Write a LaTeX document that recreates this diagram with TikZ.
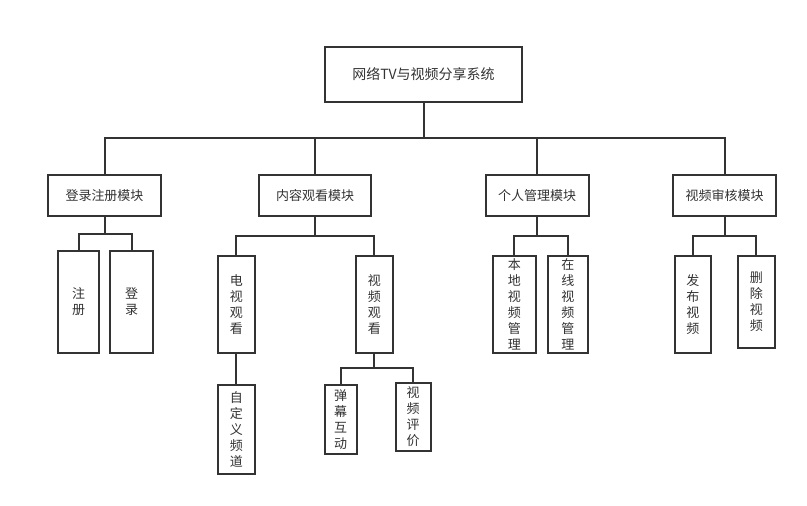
\documentclass[tikz,border=0pt]{standalone}
\usepackage{fontspec}
\setmainfont{Noto Sans CJK SC}
\definecolor{ink}{HTML}{333333}
\definecolor{txt}{HTML}{333333}
\begin{document}
\begin{tikzpicture}[x=1pt,y=-1pt,
  box/.style={draw=ink, line width=2pt, fill=white, inner sep=0pt, text=txt, align=center,
    font=\fontsize{13}{16}\selectfont},
  conn/.style={draw=ink, line width=2pt}]
\useasboundingbox (0,0) rectangle (807,506);
% root and modules
\node[box, minimum width=197pt, minimum height=55pt, font=\fontsize{14}{16}\selectfont] (root) at (423.5,74.5) {网络TV与视频分享系统};
\node[box, minimum width=113pt, minimum height=41pt] (m1) at (104.5,195.5) {登录注册模块};
\node[box, minimum width=112pt, minimum height=41pt] (m2) at (315,195.5) {内容观看模块};
\node[box, minimum width=103pt, minimum height=41pt] (m3) at (537,195.5) {个人管理模块};
\node[box, minimum width=103pt, minimum height=41pt] (m4) at (724.5,195.5) {视频审核模块};
% leaves
\node[box, minimum width=40.7pt, minimum height=102.3pt] (a1) at (78.7,301.8) {注\\册};
\node[box, minimum width=42.4pt, minimum height=102.3pt] (a2) at (131.5,301.8) {登\\录};
\node[box, minimum width=37.3pt, minimum height=97.3pt] (b1) at (236.3,304.3) {电\\视\\观\\看};
\node[box, minimum width=36.7pt, minimum height=97.3pt] (b2) at (374.3,304.3) {视\\频\\观\\看};
\node[box, minimum width=37.3pt, minimum height=88.7pt] (b3) at (236.3,429.7) {自\\定\\义\\频\\道};
\node[box, minimum width=32pt, minimum height=68.7pt] (b4) at (340.7,419.7) {弹\\幕\\互\\动};
\node[box, minimum width=35pt, minimum height=68.3pt] (b5) at (413.2,416.8) {视\\频\\评\\价};
\node[box, minimum width=43.3pt, minimum height=97.3pt] (c1) at (514.3,304.3) {本\\地\\视\\频\\管\\理};
\node[box, minimum width=40.3pt, minimum height=97.3pt] (c2) at (567.8,304.3) {在\\线\\视\\频\\管\\理};
\node[box, minimum width=35.7pt, minimum height=97.3pt] (d1) at (692.8,304.3) {发\\布\\视\\频};
\node[box, minimum width=37.3pt, minimum height=92.3pt] (d2) at (756.3,301.8) {删\\除\\视\\频};
% bus levels
\coordinate (y0) at (0,138);
\coordinate (y1) at (0,233.5);
\coordinate (y2) at (0,235.7);
\coordinate (y3) at (0,367.7);
% root -> modules
\draw[conn] (root.south) -- (root.south |- y0);
\draw[conn] (m1.north) -- (m1.north |- y0) -- (m4.north |- y0) -- (m4.north);
\draw[conn] (m2.north) -- (m2.north |- y0);
\draw[conn] (m3.north) -- (m3.north |- y0);
% m1
\draw[conn] (m1.south) -- (m1.south |- y1);
\draw[conn] (a1.north) -- (a1.north |- y1) -- (a2.north |- y1) -- (a2.north);
% m2
\draw[conn] (m2.south) -- (m2.south |- y2);
\draw[conn] (b1.north) -- (b1.north |- y2) -- (b2.north |- y2) -- (b2.north);
\draw[conn] (b1.south) -- (b3.north);
\draw[conn] (b2.south) -- (b2.south |- y3);
\draw[conn] (b4.north) -- (b4.north |- y3) -- (b5.north |- y3) -- (b5.north);
% m3
\draw[conn] (m3.south) -- (m3.south |- y2);
\draw[conn] (c1.north) -- (c1.north |- y2) -- (c2.north |- y2) -- (c2.north);
% m4
\draw[conn] (m4.south) -- (m4.south |- y2);
\draw[conn] (d1.north) -- (d1.north |- y2) -- (d2.north |- y2) -- (d2.north);
\end{tikzpicture}
\end{document}
